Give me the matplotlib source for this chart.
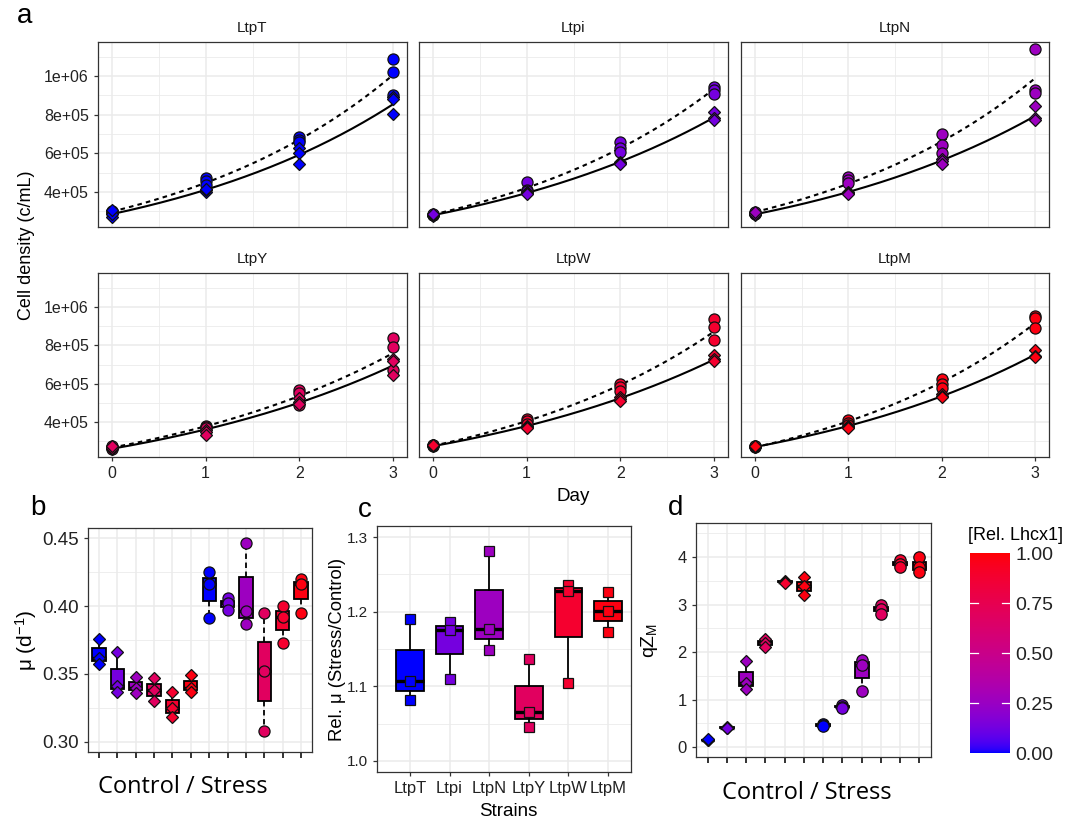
import numpy as np
import matplotlib
matplotlib.use("Agg")
import matplotlib.pyplot as plt
from matplotlib.colors import ListedColormap, Normalize

plt.rcParams["font.family"] = ["Liberation Sans", "DejaVu Sans"]
plt.rcParams["mathtext.fontset"] = "custom"
plt.rcParams["mathtext.rm"] = "Liberation Sans"
plt.rcParams["mathtext.it"] = "Liberation Sans:italic"

# ---------------------------------------------------------------- data
strains = ["LtpT", "Ltpi", "LtpN", "LtpY", "LtpW", "LtpM"]
rel_lhcx1 = [0.00, 0.13, 0.26, 0.68, 0.88, 0.97]
days = [0, 1, 2, 3]

# Cell density (c/mL); rows = day 0..3, columns = replicate cultures
dens_ctrl_LtpT = [[2.70e5, 2.85e5, 3.05e5], [4.00e5, 4.10e5, 4.15e5], [6.30e5, 6.00e5, 5.45e5], [8.90e5, 8.80e5, 8.05e5]]
dens_stress_LtpT = [[2.90e5, 2.95e5, 3.00e5], [4.70e5, 4.55e5, 4.35e5], [6.85e5, 6.70e5, 6.60e5], [1.09e6, 1.02e6, 9.00e5]]
dens_ctrl_Ltpi = [[2.75e5, 2.80e5, 2.85e5], [4.00e5, 3.95e5, 3.90e5], [5.55e5, 5.50e5, 5.45e5], [8.15e5, 7.85e5, 7.75e5]]
dens_stress_Ltpi = [[2.78e5, 2.82e5, 2.85e5], [4.50e5, 4.10e5, 4.05e5], [6.60e5, 6.30e5, 6.05e5], [9.45e5, 9.30e5, 9.10e5]]
dens_ctrl_LtpN = [[2.80e5, 2.85e5, 2.95e5], [4.00e5, 3.95e5, 3.90e5], [5.70e5, 5.60e5, 5.45e5], [8.45e5, 7.85e5, 7.75e5]]
dens_stress_LtpN = [[2.85e5, 2.90e5, 2.95e5], [4.75e5, 4.60e5, 4.45e5], [7.00e5, 6.45e5, 6.00e5], [1.14e6, 9.30e5, 9.15e5]]
dens_ctrl_LtpY = [[2.60e5, 2.65e5, 2.75e5], [3.60e5, 3.50e5, 3.35e5], [5.25e5, 5.05e5, 4.95e5], [7.30e5, 7.20e5, 6.45e5]]
dens_stress_LtpY = [[2.62e5, 2.70e5, 2.75e5], [3.80e5, 3.75e5, 3.70e5], [5.65e5, 5.50e5, 4.90e5], [8.40e5, 7.90e5, 6.70e5]]
dens_ctrl_LtpW = [[2.75e5, 2.78e5, 2.80e5], [3.80e5, 3.75e5, 3.70e5], [5.30e5, 5.20e5, 5.10e5], [7.50e5, 7.30e5, 7.20e5]]
dens_stress_LtpW = [[2.76e5, 2.80e5, 2.82e5], [4.15e5, 4.05e5, 3.90e5], [6.00e5, 5.85e5, 5.60e5], [9.35e5, 8.95e5, 8.30e5]]
dens_ctrl_LtpM = [[2.70e5, 2.72e5, 2.75e5], [3.80e5, 3.75e5, 3.70e5], [5.45e5, 5.35e5, 5.30e5], [7.75e5, 7.45e5, 7.40e5]]
dens_stress_LtpM = [[2.70e5, 2.73e5, 2.76e5], [4.10e5, 3.95e5, 3.85e5], [6.25e5, 6.00e5, 5.80e5], [9.55e5, 9.40e5, 8.90e5]]

density_ctrl = [dens_ctrl_LtpT, dens_ctrl_Ltpi, dens_ctrl_LtpN, dens_ctrl_LtpY, dens_ctrl_LtpW, dens_ctrl_LtpM]
density_stress = [dens_stress_LtpT, dens_stress_Ltpi, dens_stress_LtpN, dens_stress_LtpY, dens_stress_LtpW, dens_stress_LtpM]

# Growth rate mu (d^-1), one list of replicates per strain
mu_ctrl = [[0.376, 0.362, 0.357], [0.366, 0.341, 0.337], [0.348, 0.340, 0.336],
           [0.347, 0.338, 0.330], [0.337, 0.325, 0.318], [0.349, 0.340, 0.337]]
mu_stress = [[0.425, 0.416, 0.391], [0.406, 0.402, 0.397], [0.446, 0.396, 0.387],
             [0.395, 0.352, 0.308], [0.400, 0.392, 0.373], [0.420, 0.416, 0.395]]

# Relative growth rate (stress / control)
rel_mu = [[1.190, 1.107, 1.081], [1.186, 1.176, 1.110], [1.282, 1.177, 1.149],
          [1.136, 1.066, 1.046], [1.236, 1.228, 1.105], [1.227, 1.201, 1.173]]

# qZM, control then stress
qzm_ctrl = [[0.15, 0.15, 0.16], [0.40, 0.42, 0.41], [1.82, 1.34, 1.22],
            [2.27, 2.18, 2.10], [3.50, 3.48, 3.46], [3.58, 3.38, 3.20]]
qzm_stress = [[0.49, 0.46, 0.44], [0.88, 0.85, 0.83], [1.84, 1.72, 1.17],
              [2.98, 2.90, 2.81], [3.93, 3.86, 3.80], [4.00, 3.78, 3.69]]


# ------------------------------------------------- blue -> red (CIELAB)
def _lab_from_rgb(rgb):
    c = np.asarray(rgb, float)
    lin = np.where(c <= 0.04045, c / 12.92, ((c + 0.055) / 1.055) ** 2.4)
    M = np.array([[0.4124, 0.3576, 0.1805], [0.2126, 0.7152, 0.0722], [0.0193, 0.1192, 0.9505]])
    xyz = M @ lin / np.array([0.95047, 1.0, 1.08883])
    d = 6 / 29
    f = np.where(xyz > d ** 3, np.cbrt(xyz), xyz / (3 * d * d) + 4 / 29)
    return np.array([116 * f[1] - 16, 500 * (f[0] - f[1]), 200 * (f[1] - f[2])])


def _rgb_from_lab(lab):
    L, a, b = lab
    fy = (L + 16) / 116
    fx = fy + a / 500
    fz = fy - b / 200
    d = 6 / 29
    finv = lambda t: np.where(t > d, t ** 3, 3 * d * d * (t - 4 / 29))
    xyz = np.array([finv(fx), finv(fy), finv(fz)]) * np.array([0.95047, 1.0, 1.08883])
    Minv = np.linalg.inv(np.array([[0.4124, 0.3576, 0.1805], [0.2126, 0.7152, 0.0722], [0.0193, 0.1192, 0.9505]]))
    lin = np.clip(Minv @ xyz, 0, 1)
    c = np.where(lin <= 0.0031308, 12.92 * lin, 1.055 * lin ** (1 / 2.4) - 0.055)
    return np.clip(c, 0, 1)


lab_lo = _lab_from_rgb([0, 0, 1])
lab_hi = _lab_from_rgb([1, 0, 0])
cmap = ListedColormap([_rgb_from_lab(lab_lo + (lab_hi - lab_lo) * t) for t in np.linspace(0, 1, 256)])
norm = Normalize(0, 1)
strain_colors = [cmap(norm(v)) for v in rel_lhcx1]

# ---------------------------------------------------------------- style
GRID = "#EBEBEB"
FRAME = "#333333"
TXT = "#222222"


def style_axes(ax, tick_size=10.5):
    for s in ax.spines.values():
        s.set_color(FRAME)
        s.set_linewidth(0.9)
    ax.tick_params(colors=FRAME, labelcolor=TXT, labelsize=tick_size, length=3.2, width=0.9)
    ax.set_axisbelow(True)


def hgrid(ax, major, minor):
    for y in minor:
        ax.axhline(y, color=GRID, lw=0.6, zorder=0)
    for y in major:
        ax.axhline(y, color=GRID, lw=1.1, zorder=0)


def vgrid(ax, major, minor=()):
    for x in minor:
        ax.axvline(x, color=GRID, lw=0.6, zorder=0)
    for x in major:
        ax.axvline(x, color=GRID, lw=1.1, zorder=0)


def draw_box(ax, pos, vals, color, dashed, width):
    ls = (0, (3, 2)) if dashed else "-"
    ax.boxplot([vals], positions=[pos], widths=width, patch_artist=True,
               showfliers=False, showcaps=False, whis=(0, 100), manage_ticks=False,
               medianprops=dict(color="black", lw=2.4, solid_capstyle="butt"),
               boxprops=dict(facecolor=color, edgecolor="black", lw=1.3, linestyle=ls),
               whiskerprops=dict(color="black", lw=1.3, linestyle=ls), zorder=2)


fig = plt.figure(figsize=(10.7, 8.22), dpi=100)
W, H = 1070.0, 822.0


def add_ax(x0, y0, x1, y1):
    return fig.add_axes([x0 / W, 1 - y1 / H, (x1 - x0) / W, (y1 - y0) / H])


# ---------------------------------------------------------------- panel a
col_x = [(98, 407), (419, 728), (741, 1049)]
row_y = [(42, 227), (273, 457)]
tt = np.linspace(0, 3, 200)
for i, name in enumerate(strains):
    r, c = divmod(i, 3)
    ax = add_ax(col_x[c][0], row_y[r][0], col_x[c][1], row_y[r][1])
    style_axes(ax, 11.5)
    ax.set_xlim(-0.15, 3.15)
    ax.set_ylim(2.18e5, 1.177e6)
    hgrid(ax, [4e5, 6e5, 8e5, 1e6], [3e5, 5e5, 7e5, 9e5, 1.1e6])
    vgrid(ax, days, [0.5, 1.5, 2.5])
    col = strain_colors[i]
    for data, ls in ((density_stress[i], (0, (2.2, 2.0))), (density_ctrl[i], "-")):
        arr = np.asarray(data, float)
        t = np.repeat(days, arr.shape[1])
        slope, icpt = np.polyfit(t, np.log(arr.ravel()), 1)
        ax.plot(tt, np.exp(icpt + slope * tt), color="black", lw=1.5, ls=ls, zorder=3)
    for data, marker, ms in ((density_stress[i], "o", 8.0), (density_ctrl[i], "D", 6.3)):
        arr = np.asarray(data, float)
        t = np.repeat(days, arr.shape[1])
        ax.plot(t, arr.ravel(), ls="none", marker=marker, ms=ms, mfc=col, mec="#111111", mew=0.9, zorder=4)
    ax.set_title(name, fontsize=11, color="#1A1A1A", pad=7)
    ax.set_xticks(days)
    ax.set_yticks([4e5, 6e5, 8e5, 1e6])
    if c == 0:
        ax.set_yticklabels(["4e+05", "6e+05", "8e+05", "1e+06"])
    else:
        ax.set_yticklabels([])
        ax.tick_params(axis="y", length=0)
    if r == 1:
        ax.set_xticklabels([str(d) for d in days])
    else:
        ax.set_xticklabels([])
        ax.tick_params(axis="x", length=0)

fig.text(27 / W, 1 - 245 / H, "Cell density (c/mL)", rotation=90, ha="center", va="center", fontsize=13, color="black")
fig.text(573 / W, 1 - 496 / H, "Day", ha="center", va="center", fontsize=13.5, color="black")

# ---------------------------------------------------------------- panel b
axb = add_ax(88, 528, 312, 752)
style_axes(axb, 13.5)
n = len(strains)
pos_ctrl = np.arange(1, n + 1)
pos_stress = np.arange(n + 1, 2 * n + 1)
axb.set_xlim(0.4, 2 * n + 0.6)
axb.set_ylim(0.2926, 0.4574)
hgrid(axb, [0.30, 0.35, 0.40, 0.45], [0.325, 0.375, 0.425])
vgrid(axb, np.arange(1, 2 * n + 1))
for i in range(n):
    draw_box(axb, pos_ctrl[i], mu_ctrl[i], strain_colors[i], False, 0.72)
    draw_box(axb, pos_stress[i], mu_stress[i], strain_colors[i], True, 0.72)
    axb.plot([pos_ctrl[i]] * 3, mu_ctrl[i], ls="none", marker="D", ms=6.2, mfc=strain_colors[i], mec="#111111", mew=0.9, zorder=4)
    axb.plot([pos_stress[i]] * 3, mu_stress[i], ls="none", marker="o", ms=8.0, mfc=strain_colors[i], mec="#111111", mew=0.9, zorder=4)
axb.set_xticks(np.arange(1, 2 * n + 1))
axb.set_xticklabels([])
axb.tick_params(axis="x", length=4.5, width=1.4)
axb.set_yticks([0.30, 0.35, 0.40, 0.45])
axb.set_yticklabels(["0.30", "0.35", "0.40", "0.45"])
fig.text(26 / W, 1 - 640 / H, "μ (d$^{-1}$)", rotation=90, ha="center", va="center", fontsize=15, color="black")
fig.text(183 / W, 1 - 787 / H, "Control / Stress", ha="center", va="center", fontsize=17,
         family=["Open Sans", "DejaVu Sans"], color="black")

# ---------------------------------------------------------------- panel c
axc = add_ax(377, 526, 631, 772)
style_axes(axc, 11)
axc.tick_params(axis="x", labelsize=12)
axc.set_xlim(0.17, 6.58)
axc.set_ylim(0.985, 1.315)
hgrid(axc, [1.0, 1.1, 1.2, 1.3], [1.05, 1.15, 1.25])
vgrid(axc, np.arange(1, n + 1))
for i in range(n):
    draw_box(axc, i + 1, rel_mu[i], strain_colors[i], False, 0.7)
    axc.plot([i + 1] * 3, rel_mu[i], ls="none", marker="s", ms=6.8, mfc=strain_colors[i], mec="#111111", mew=0.9, zorder=4)
axc.set_xticks(np.arange(1, n + 1))
axc.set_xticklabels(strains)
axc.set_yticks([1.0, 1.1, 1.2, 1.3])
axc.set_yticklabels(["1.0", "1.1", "1.2", "1.3"])
fig.text(337 / W, 1 - 649 / H, "Rel. μ (Stress/Control)", rotation=90, ha="center", va="center", fontsize=13.3, color="black")
fig.text(508 / W, 1 - 811 / H, "Strains", ha="center", va="center", fontsize=13.5, color="black")

# ---------------------------------------------------------------- panel d
axd = add_ax(696, 523, 931, 757)
style_axes(axd, 12)
axd.set_xlim(0.4, 2 * n + 0.6)
axd.set_ylim(-0.21, 4.716)
hgrid(axd, [0, 1, 2, 3, 4], [0.5, 1.5, 2.5, 3.5, 4.5])
vgrid(axd, np.arange(1, 2 * n + 1))
for i in range(n):
    draw_box(axd, pos_ctrl[i], qzm_ctrl[i], strain_colors[i], False, 0.72)
    draw_box(axd, pos_stress[i], qzm_stress[i], strain_colors[i], True, 0.72)
    axd.plot([pos_ctrl[i]] * 3, qzm_ctrl[i], ls="none", marker="D", ms=6.6, mfc=strain_colors[i], mec="#111111", mew=0.9, zorder=4)
    axd.plot([pos_stress[i]] * 3, qzm_stress[i], ls="none", marker="o", ms=8.2, mfc=strain_colors[i], mec="#111111", mew=0.9, zorder=4)
axd.set_xticks(np.arange(1, 2 * n + 1))
axd.set_xticklabels([])
axd.tick_params(axis="x", length=4.5, width=1.4)
axd.set_yticks([0, 1, 2, 3, 4])
fig.text(650 / W, 1 - 640 / H, "qZ$_\\mathregular{M}$", rotation=90, ha="center", va="center", fontsize=14, color="black")
fig.text(807 / W, 1 - 793 / H, "Control / Stress", ha="center", va="center", fontsize=17,
         family=["Open Sans", "DejaVu Sans"], color="black")

# ---------------------------------------------------------------- colour bar
axcb = add_ax(970, 553, 1010, 753)
grad = np.linspace(0, 1, 256).reshape(-1, 1)
axcb.imshow(grad, aspect="auto", cmap=cmap, norm=norm, origin="lower", extent=[0, 1, 0, 1])
for y in (0.25, 0.5, 0.75):
    axcb.plot([0, 0.2], [y, y], color="white", lw=0.9)
    axcb.plot([0.8, 1], [y, y], color="white", lw=0.9)
axcb.set_xlim(0, 1)
axcb.set_ylim(0, 1)
for s in axcb.spines.values():
    s.set_visible(False)
axcb.set_xticks([])
axcb.yaxis.tick_right()
axcb.set_yticks([0, 0.25, 0.5, 0.75, 1.0])
axcb.set_yticklabels(["0.00", "0.25", "0.50", "0.75", "1.00"])
axcb.tick_params(axis="y", length=0, pad=4, labelsize=14, labelcolor=TXT)
fig.text(1015 / W, 1 - 536 / H, "[Rel. Lhcx1]", ha="center", va="center", fontsize=13, color="black")

# ---------------------------------------------------------------- panel tags
for tag, x, y in (("a", 25, 16), ("b", 38, 508), ("c", 365, 510), ("d", 676, 508)):
    fig.text(x / W, 1 - y / H, tag, ha="center", va="center", fontsize=20, color="black")

fig.savefig("out.png", dpi=100)
